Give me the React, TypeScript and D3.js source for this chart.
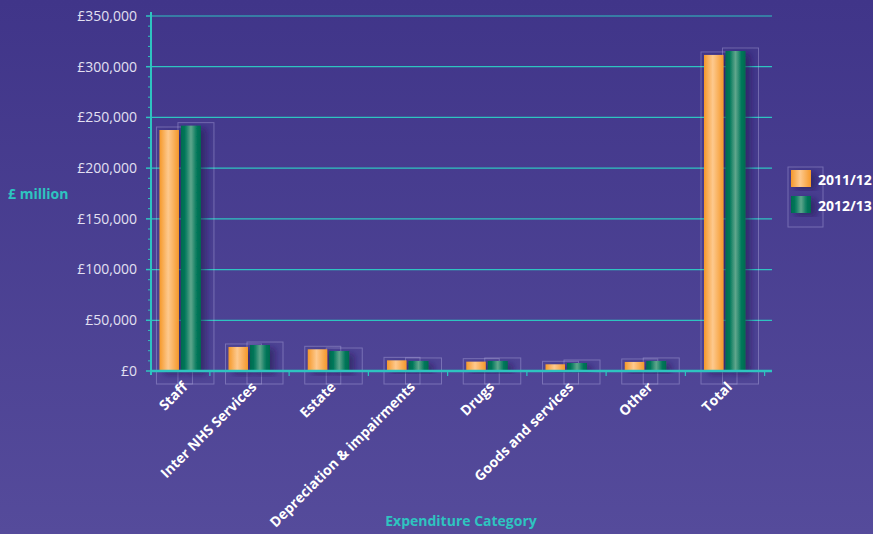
import React from "react";
import * as d3 from "d3";

const categories = ["Staff", "Inter NHS Services", "Estate", "Depreciation & impairments", "Drugs", "Goods and services", "Other", "Total"];
const series2011 = [237600, 23700, 21400, 10500, 9200, 6600, 8900, 311600];
const series2012 = [241900, 25600, 19700, 9900, 9900, 7900, 9900, 315500];
const seriesNames = ["2011/12", "2012/13"];
const yTicks = [0, 50000, 100000, 150000, 200000, 250000, 300000, 350000];

const W = 873, H = 534;
const left = 151, right = 772, top = 16, bottom = 371;

export default function App() {
  const y = d3.scaleLinear().domain([0, 350000]).range([bottom, top]);
  // category index -> centre pixel; bands clipped to the plot area
  const xi = d3.scaleLinear().domain([1, 7]).range([249.5, 725]);
  const step = xi(2) - xi(1);
  const bands = categories.map((c, i) => {
    const lo = Math.max(left, xi(i) - step / 2);
    const hi = Math.min(right, xi(i) + step / 2);
    return { c, i, lo, hi, cx: (lo + hi) / 2 };
  });
  const minor = d3.range(0, 350001, 10000).filter((v) => v % 50000 !== 0);
  const fmt = (v: number) => "£" + d3.format(",")(v);
  const teal = "#2EC4C0";
  const series = [series2011, series2012];
  const fills = ["url(#gOrange)", "url(#gGreen)"];
  const barW = 19.5;
  const offs = [-21, 0.5];

  return (
    <svg width={W} height={H} style={{ position: "absolute", left: 0, top: 0, fontFamily: "'Open Sans', sans-serif" }}>
      <defs>
        <linearGradient id="bg" x1="0" y1="0" x2="0" y2="1">
          <stop offset="0" stopColor="#403589" />
          <stop offset="1" stopColor="#554B9B" />
        </linearGradient>
        <linearGradient id="gOrange" x1="0" y1="0" x2="1" y2="0">
          <stop offset="0" stopColor="#F5982A" />
          <stop offset="0.45" stopColor="#FDC98E" />
          <stop offset="1" stopColor="#F5982A" />
        </linearGradient>
        <linearGradient id="gGreen" x1="0" y1="0" x2="1" y2="0">
          <stop offset="0" stopColor="#006A4E" />
          <stop offset="0.2" stopColor="#00775A" />
          <stop offset="0.5" stopColor="#5FA68C" />
          <stop offset="0.8" stopColor="#00775A" />
          <stop offset="1" stopColor="#006A4E" />
        </linearGradient>
        <filter id="shadow" x="-50%" y="-20%" width="200%" height="140%">
          <feDropShadow dx="5" dy="3" stdDeviation="3" floodColor="#1E1650" floodOpacity="0.55" />
        </filter>
      </defs>
      <rect x={0} y={0} width={W} height={H} fill="url(#bg)" />

      {/* gridlines */}
      {yTicks.filter((v) => v > 0).map((v) => (
        <line key={"g" + v} x1={left} x2={right} y1={y(v)} y2={y(v)} stroke={teal} strokeWidth={1.2} />
      ))}

      {/* ghost boxes */}
      {bands.map((b) =>
        series.map((s, k) => {
          const x0 = b.cx + offs[k];
          return (
            <rect key={"box" + b.i + k} x={x0 - 3} y={y(s[b.i]) - 3} width={36} height={384 - (y(s[b.i]) - 3)}
              fill="none" stroke="rgba(200,195,240,0.35)" strokeWidth={1} />
          );
        })
      )}

      {/* bars */}
      {bands.map((b) => (
        <g key={"bars" + b.i} filter="url(#shadow)">
          {series.map((s, k) => (
            <rect key={k} x={b.cx + offs[k]} y={y(s[b.i])} width={k === 0 ? barW : 20} height={bottom - y(s[b.i])} fill={fills[k]} />
          ))}
        </g>
      ))}

      {/* axes */}
      <line x1={left} x2={left} y1={12} y2={375} stroke={teal} strokeWidth={2} />
      <line x1={left} x2={right} y1={bottom} y2={bottom} stroke={teal} strokeWidth={2.5} />
      {yTicks.map((v) => (
        <g key={"t" + v}>
          <line x1={146} x2={left} y1={y(v)} y2={y(v)} stroke={teal} strokeWidth={1.5} />
          <text x={137} y={y(v)} dy="0.35em" textAnchor="end" fontSize={14} fill="#E2E0F2" fontWeight={400}>{fmt(v)}</text>
        </g>
      ))}
      {minor.map((v) => (
        <line key={"m" + v} x1={148} x2={left} y1={y(v)} y2={y(v)} stroke={teal} strokeWidth={1} />
      ))}
      {bands.slice(1).map((b) => (
        <line key={"xt" + b.i} x1={b.lo} x2={b.lo} y1={bottom} y2={bottom + 5} stroke={teal} strokeWidth={1.2} />
      ))}
      <line x1={bands[7].hi} x2={bands[7].hi} y1={bottom} y2={bottom + 5} stroke={teal} strokeWidth={1.2} />

      {/* category labels */}
      {bands.map((b) => (
        <text key={"l" + b.i} transform={`translate(${b.cx + 1},${381}) rotate(-45)`} textAnchor="end" dy="0.7em"
          fontSize={14} fontWeight={700} fill="#FFFFFF">{b.c}</text>
      ))}

      {/* axis titles */}
      <text x={8} y={199} fontSize={14} fontWeight={700} fill={teal}>£ million</text>
      <text x={461} y={526} textAnchor="middle" fontSize={14} fontWeight={700} fill={teal}>Expenditure Category</text>

      {/* legend */}
      <rect x={788} y={167} width={35} height={60} fill="none" stroke="rgba(200,195,240,0.35)" />
      {seriesNames.map((n, k) => (
        <g key={"lg" + n} filter="url(#shadow)">
          <rect x={791} y={170 + k * 26} width={20} height={17} fill={fills[k]} />
        </g>
      ))}
      {seriesNames.map((n, k) => (
        <text key={"lt" + n} x={818} y={180 + k * 26} dy="0.35em" fontSize={14} fontWeight={700} fill="#FFFFFF">{n}</text>
      ))}
    </svg>
  );
}
